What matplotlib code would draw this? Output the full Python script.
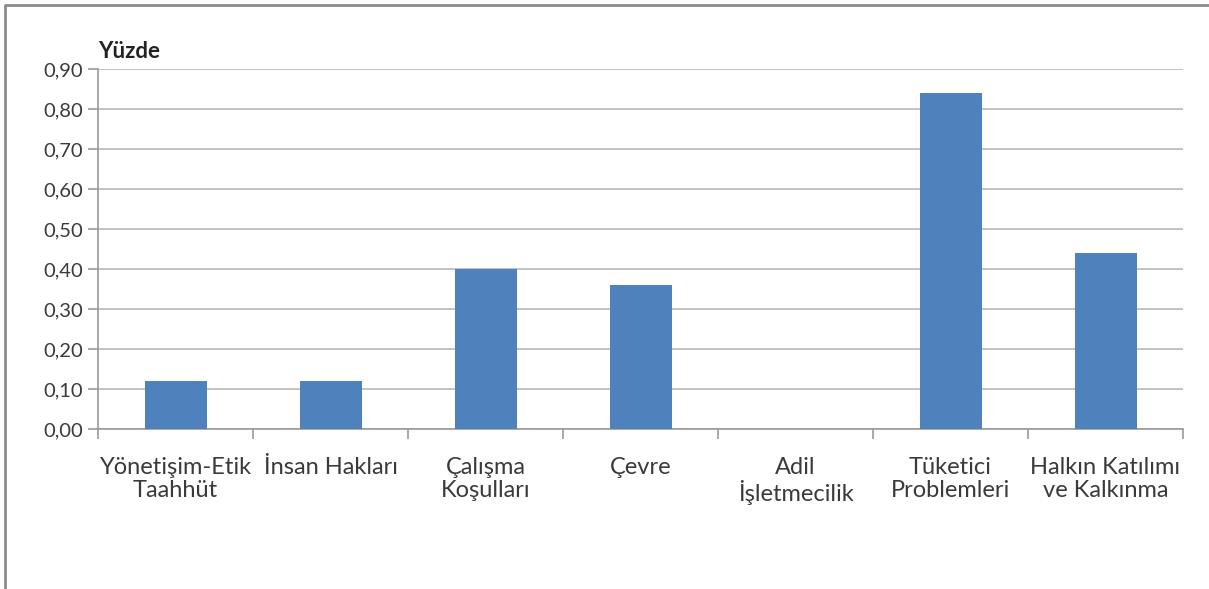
import numpy as np
import matplotlib.pyplot as plt
from matplotlib.lines import Line2D

plt.rcParams['font.family'] = ['Lato', 'DejaVu Sans']

categories = ['Yönetişim-Etik\nTaahhüt', 'İnsan Hakları', 'Çalışma\nKoşulları', 'Çevre',
              'Adil\nİşletmecilik', 'Tüketici\nProblemleri', 'Halkın Katılımı\nve Kalkınma']
values = [0.12, 0.12, 0.40, 0.36, 0.0, 0.84, 0.44]
yticks = [0.0, 0.1, 0.2, 0.3, 0.4, 0.5, 0.6, 0.7, 0.8, 0.9]

fig = plt.figure(figsize=(12.09, 5.89), dpi=100)
ax = fig.add_axes([0.0811, 0.2716, 0.8974, 0.6113])

x = np.arange(len(categories))
ax.bar(x, values, width=0.4, color='#4F81BD', zorder=3)

ax.set_xlim(-0.5, len(categories) - 0.5)
ax.set_ylim(0, 0.9)
ax.set_yticks(yticks)
ax.set_yticklabels([('%.2f' % v).replace('.', ',') for v in yticks])
ax.yaxis.grid(True, color='#b8b8b8', linewidth=1.2, zorder=0)

ax.set_xticks(x)
ax.set_xticklabels(categories, fontsize=17, color='#3a3a3a', linespacing=1.1)
ax.set_xticks(np.arange(len(categories) + 1) - 0.5, minor=True)
ax.tick_params(axis='x', which='major', length=0, pad=20)
ax.tick_params(axis='x', which='minor', length=7, color='#999999', width=1.2)
ax.tick_params(axis='y', length=7, color='#999999', width=1.2, labelsize=14.5,
               labelcolor='#3a3a3a', pad=4)

for s in ['top', 'right']:
    ax.spines[s].set_visible(False)
for s in ['left', 'bottom']:
    ax.spines[s].set_color('#999999')
    ax.spines[s].set_linewidth(1.2)

ax.text(0.0, 1.02, 'Yüzde', transform=ax.transAxes, fontsize=16, fontweight='bold',
        color='#222222', ha='left', va='bottom')

# outer frame (left and top edges)
fw, fh = 1209, 589
fig.add_artist(Line2D([5 / fw, 5 / fw, 1], [0, 1 - 5 / fh, 1 - 5 / fh],
                      transform=fig.transFigure, color='#8c8c8c', linewidth=2))

fig.savefig('out.png', dpi=100)
